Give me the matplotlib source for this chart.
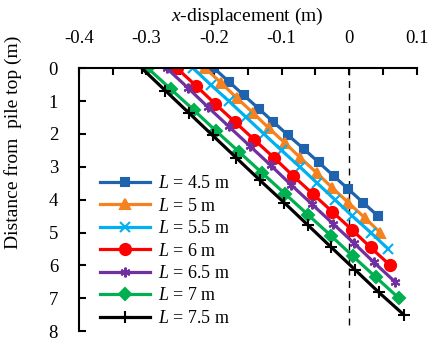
import matplotlib.pyplot as plt

plt.rcParams['font.family'] = 'Liberation Serif'
plt.rcParams['mathtext.fontset'] = 'custom'
plt.rcParams['mathtext.rm'] = 'Liberation Serif'
plt.rcParams['mathtext.it'] = 'Liberation Serif:italic'

# pile lengths and the nodes along each pile (depth in m, x-displacement in m)
labels = ['$L$ = 4.5 m', '$L$ = 5 m', '$L$ = 5.5 m', '$L$ = 6 m',
          '$L$ = 6.5 m', '$L$ = 7 m', '$L$ = 7.5 m']

depth_45 = [0, 0.409, 0.818, 1.227, 1.636, 2.045, 2.455, 2.864, 3.273, 3.682, 4.091, 4.5]
disp_45 = [-0.200, -0.178, -0.156, -0.134, -0.112, -0.090, -0.067, -0.045, -0.023, -0.001, 0.021, 0.043]

depth_5 = [0, 0.455, 0.909, 1.364, 1.818, 2.273, 2.727, 3.182, 3.636, 4.091, 4.545, 5.0]
disp_5 = [-0.213, -0.189, -0.166, -0.142, -0.119, -0.095, -0.072, -0.048, -0.025, -0.001, 0.023, 0.046]

depth_55 = [0, 0.5, 1.0, 1.5, 2.0, 2.5, 3.0, 3.5, 4.0, 4.5, 5.0, 5.5]
disp_55 = [-0.231, -0.205, -0.178, -0.152, -0.126, -0.100, -0.073, -0.047, -0.021, 0.005, 0.032, 0.058]

depth_6 = [0, 0.545, 1.091, 1.636, 2.182, 2.727, 3.273, 3.818, 4.364, 4.909, 5.455, 6.0]
disp_6 = [-0.255, -0.226, -0.198, -0.169, -0.140, -0.111, -0.083, -0.054, -0.025, 0.004, 0.032, 0.061]

depth_65 = [0, 0.591, 1.182, 1.773, 2.364, 2.955, 3.545, 4.136, 4.727, 5.318, 5.909, 6.5]
disp_65 = [-0.270, -0.239, -0.209, -0.178, -0.147, -0.116, -0.086, -0.055, -0.024, 0.007, 0.037, 0.068]

depth_7 = [0, 0.636, 1.273, 1.909, 2.545, 3.182, 3.818, 4.455, 5.091, 5.727, 6.364, 7.0]
disp_7 = [-0.298, -0.264, -0.230, -0.197, -0.163, -0.129, -0.095, -0.061, -0.027, 0.006, 0.040, 0.074]

depth_75 = [0, 0.682, 1.364, 2.045, 2.727, 3.409, 4.091, 4.773, 5.455, 6.136, 6.818, 7.5]
disp_75 = [-0.307, -0.272, -0.237, -0.202, -0.167, -0.132, -0.096, -0.061, -0.026, 0.009, 0.044, 0.081]

depths = [depth_45, depth_5, depth_55, depth_6, depth_65, depth_7, depth_75]
disps = [disp_45, disp_5, disp_55, disp_6, disp_65, disp_7, disp_75]

colors = ['#1F62AE', '#F5821F', '#00B0F0', '#FF0000', '#7030A0', '#00B050', '#000000']
markers = ['s', '^', 'x', 'o', '*', 'D', '+']
msizes = [6, 7, 7, 8, 7, 6, 8]

fig = plt.figure(figsize=(4.29, 3.41), dpi=100)
ax = fig.add_axes([0.184, 0.029, 0.787, 0.771])

# vertical reference line at zero displacement
ax.plot([0, 0], [0, 8], color='black', linestyle=(0, (5, 4)), linewidth=1)

for d, x, c, m, ms, lab in zip(depths, disps, colors, markers, msizes, labels):
    if m == '*':
        m = (6, 2, 0)  # asterisk-like marker
    ax.plot(x, d, color=c, marker=m, markersize=ms, linewidth=2.3,
            markeredgewidth=1.5, label=lab)

ax.set_xlim(-0.4, 0.1)
ax.set_ylim(8, 0)
ax.xaxis.set_ticks_position('top')
ax.xaxis.set_label_position('top')
ax.set_xticks([-0.4, -0.3, -0.2, -0.1, 0, 0.1])
ax.set_xticklabels(['-0.4', '-0.3', '-0.2', '-0.1', '0', '0.1'])
ax.set_xticks([-0.35, -0.25, -0.15, -0.05, 0.05], minor=True)
ax.set_yticks(range(9))
ax.tick_params(axis='both', which='both', direction='in', labelsize=13.5,
               width=1.5, length=5, pad=15)
ax.tick_params(axis='y', pad=15)

ax.spines['right'].set_visible(False)
ax.spines['bottom'].set_visible(False)
ax.spines['top'].set_linewidth(1.5)
ax.spines['left'].set_linewidth(1.5)

ax.set_xlabel('$x$-displacement (m)', fontsize=14, labelpad=7)
ax.set_ylabel('Distance from  pile top (m)', fontsize=14)
ax.yaxis.set_label_coords(-0.17, 0.72)

ax.legend(loc='lower left', bbox_to_anchor=(0.03, -0.025), frameon=False,
          fontsize=13, handlelength=2.8, labelspacing=0.3, handletextpad=0.4,
          borderaxespad=0.2)

fig.savefig('out.png', dpi=100)
